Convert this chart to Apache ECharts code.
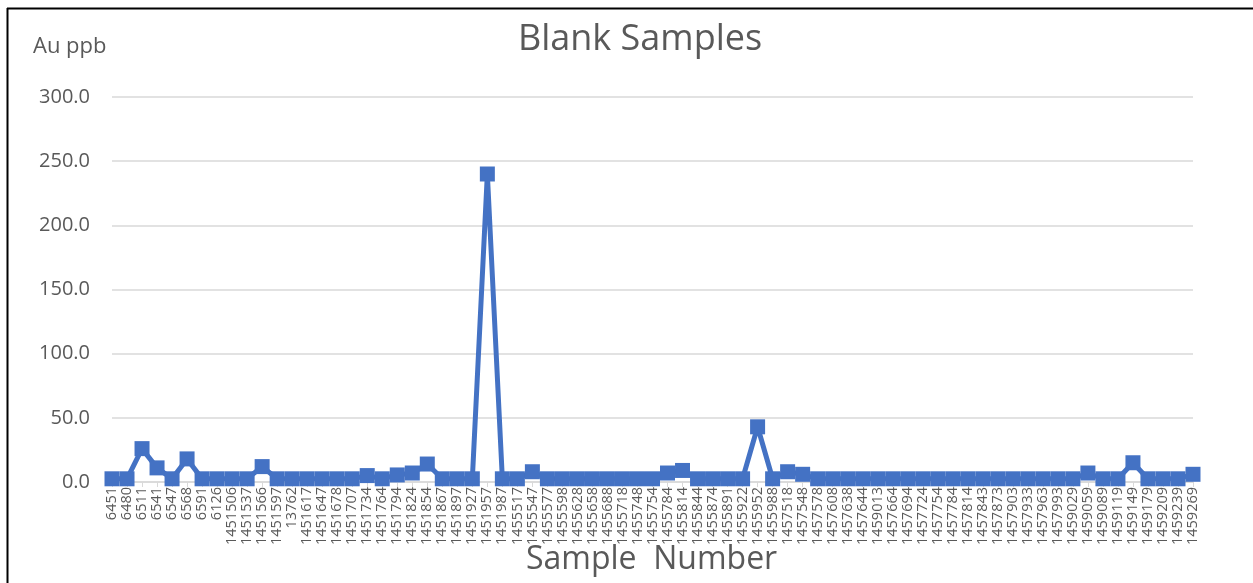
<!DOCTYPE html>
<html>
<head>
<meta charset="utf-8">
<script src="https://cdn.jsdelivr.net/npm/echarts@6/dist/echarts.min.js"></script>
<style>html,body{margin:0;padding:0;background:#fff;}#c{width:1253px;height:583px;}</style>
</head>
<body>
<div id="c"></div>
<script>
const categories = ['6451','6480','6511','6541','6547','6568','6591','6126','1451506','1451537','1451566','1451597','13762','1451617','1451647','1451678','1451707','1451734','1451764','1451794','1451824','1451854','1451867','1451897','1451927','1451957','1451987','1455517','1455547','1455577','1455598','1455628','1455658','1455688','1455718','1455748','1455754','1455784','1455814','1455844','1455874','1455891','1455922','1455952','1455988','1457518','1457548','1457578','1457608','1457638','1457644','1459013','1457664','1457694','1457724','1457754','1457784','1457814','1457843','1457873','1457903','1457933','1457963','1457993','1459029','1459059','1459089','1459119','1459149','1459179','1459209','1459239','1459269'];
const auPpb = [2.5,2.5,26,11,2.5,18,2.5,2.5,2.5,2.5,12,2.5,2.5,2.5,2.5,2.5,2.5,5,2.5,5.5,7,14,2.5,2.5,2.5,240,2.5,2.5,8,2.5,2.5,2.5,2.5,2.5,2.5,2.5,2.5,7,9,2.5,2.5,2.5,2.5,43,2.5,8,6,2.5,2.5,2.5,2.5,2.5,2.5,2.5,2.5,2.5,2.5,2.5,2.5,2.5,2.5,2.5,2.5,2.5,2.5,7,2.5,2.5,15,2.5,2.5,2.5,6];
const yTicks = {min: 0, max: 300, interval: 50};

const chart = echarts.init(document.getElementById('c'));
const font = 'Open Sans';
chart.setOption({
  animation: false,
  backgroundColor: '#fff',
  graphic: [
    {type: 'line', shape: {x1: 7.5, y1: 8, x2: 7.5, y2: 583}, style: {stroke: '#000', lineWidth: 2}},
    {type: 'line', shape: {x1: 7, y1: 8.5, x2: 1253, y2: 8.5}, style: {stroke: '#000', lineWidth: 2}},
    {type: 'text', x: 640, y: 22, style: {text: 'Blank Samples', fontFamily: font, fontSize: 36, fill: '#595959', align: 'center'}},
    {type: 'text', left: 33, top: 36, style: {text: 'Au ppb', fontFamily: font, fontSize: 22, fill: '#595959'}},
    {type: 'text', left: 526, top: 544, style: {text: 'Sample  Number', fontFamily: font, fontSize: 32, fill: '#595959'}}
  ],
  grid: {left: 112, right: 60, top: 97, bottom: 101, containLabel: false},
  xAxis: {
    type: 'category', data: categories, boundaryGap: false,
    axisLine: {lineStyle: {color: '#d9d9d9', width: 1.5}},
    axisTick: {show: true, interval: 0, length: 5, lineStyle: {color: '#d9d9d9'}},
    axisLabel: {interval: 0, rotate: 90, fontFamily: font, fontSize: 14.5, color: '#595959', margin: 5},
    splitLine: {show: false}
  },
  yAxis: {
    type: 'value', min: yTicks.min, max: yTicks.max, interval: yTicks.interval,
    axisLine: {show: false}, axisTick: {show: false},
    axisLabel: {formatter: v => v.toFixed(1), fontFamily: font, fontSize: 20, color: '#595959', margin: 22},
    splitLine: {lineStyle: {color: '#d9d9d9', width: 1.5}}
  },
  series: [{
    type: 'line', data: auPpb, symbol: 'rect', symbolSize: 15,
    lineStyle: {color: '#4472C4', width: 5},
    itemStyle: {color: '#4472C4'}
  }]
});
</script>
</body>
</html>
